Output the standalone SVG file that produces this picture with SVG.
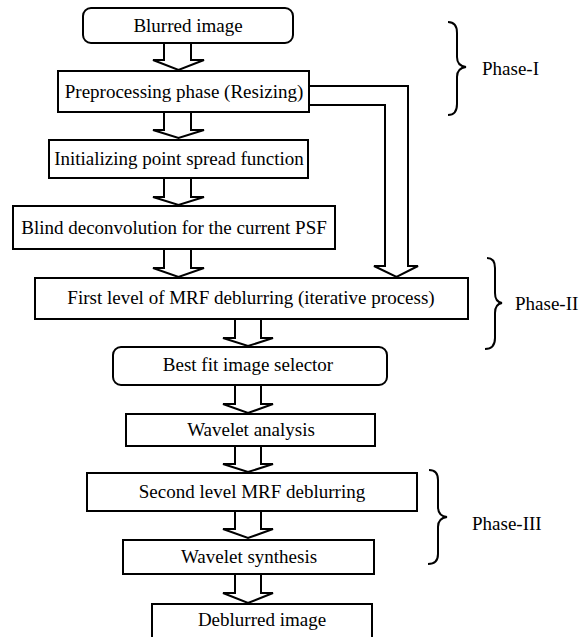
<svg xmlns="http://www.w3.org/2000/svg" width="579" height="637" viewBox="0 0 579 637">
<style>
.box{fill:#fff;stroke:#000;stroke-width:2}
.conn{fill:none;stroke:#000;stroke-width:2;stroke-linejoin:miter}
.t{font-family:"Liberation Serif","Times New Roman",serif;font-size:19px;fill:#000;text-anchor:middle}
.p{font-family:"Liberation Serif","Times New Roman",serif;font-size:19px;fill:#000}
</style>
<rect width="579" height="637" fill="#fff"/>
<g id="connectors">
<path class="conn" d="M164,43 V60 H153 L178.5,70 L204,60 H191 V43"/>
<path class="conn" d="M164,112 V130 H153 L178.5,138 L204,130 H191 V112"/>
<path class="conn" d="M164,178 V197 H153 L178.5,205 L204,197 H191 V178"/>
<path class="conn" d="M164,249 V268 H153 L178.5,277 L204,268 H191 V249"/>
<path class="conn" d="M309,86 H408 V266 H418 L396.5,277 L374,266 H385 V105 H309"/>
<path class="conn" d="M235,319 V338 H223 L248,346 L273,338 H261 V319"/>
<path class="conn" d="M235,385 V404 H223 L248,413 L273,404 H261 V385"/>
<path class="conn" d="M235,446 V464 H223 L248,472 L273,464 H261 V446"/>
<path class="conn" d="M235,511 V529 H223 L248,538 L273,529 H261 V511"/>
<path class="conn" d="M235,574 V593 H223 L248,603 L273,593 H261 V574"/>
</g>
<g id="n1"><rect class="box" x="83" y="8" width="210" height="35" rx="8"/><text class="t" x="188" y="32">Blurred image</text></g>
<g id="n2"><rect class="box" x="58" y="71" width="251" height="41"/><text class="t" x="184" y="98">Preprocessing phase (Resizing)</text></g>
<g id="n3"><rect class="box" x="49" y="140" width="259" height="38"/><text class="t" x="179" y="165">Initializing point spread function</text></g>
<g id="n4"><rect class="box" x="13" y="206" width="322" height="43"/><text class="t" x="174" y="234">Blind deconvolution for the current PSF</text></g>
<g id="n5"><rect class="box" x="35" y="278" width="433" height="41"/><text class="t" x="251" y="304">First level of MRF deblurring (iterative process)</text></g>
<g id="n6"><rect class="box" x="113" y="347" width="274" height="38" rx="8"/><text class="t" x="248" y="371">Best fit image selector</text></g>
<g id="n7"><rect class="box" x="126" y="414" width="249" height="32"/><text class="t" x="251" y="436">Wavelet analysis</text></g>
<g id="n8"><rect class="box" x="87" y="473" width="330" height="38"/><text class="t" x="252" y="498">Second level MRF deblurring</text></g>
<g id="n9"><rect class="box" x="123" y="540" width="251" height="34"/><text class="t" x="249" y="563">Wavelet synthesis</text></g>
<g id="n10"><rect class="box" x="152" y="604" width="220" height="40"/><text class="t" x="262" y="626">Deblurred image</text></g>
<g id="phase1">
<path class="conn" stroke-width="1.6" d="M448,22 Q457,22 457,33 V57 Q457,66 466,67 Q457,68 457,77 V104 Q457,115 448,115"/>
<text class="p" x="482" y="75">Phase-I</text>
</g>
<g id="phase2">
<path class="conn" stroke-width="1.6" d="M487,258 Q495,258 495,268 V293 Q495,302 502,303 Q495,304 495,313 V338 Q495,349 485,349"/>
<text class="p" x="515" y="310">Phase-II</text>
</g>
<g id="phase3">
<path class="conn" stroke-width="1.6" d="M429,470 Q438,470 438,480 V507 Q438,516 447,517 Q438,518 438,527 V554 Q438,564 428,564"/>
<text class="p" x="472" y="530">Phase-III</text>
</g>
</svg>
